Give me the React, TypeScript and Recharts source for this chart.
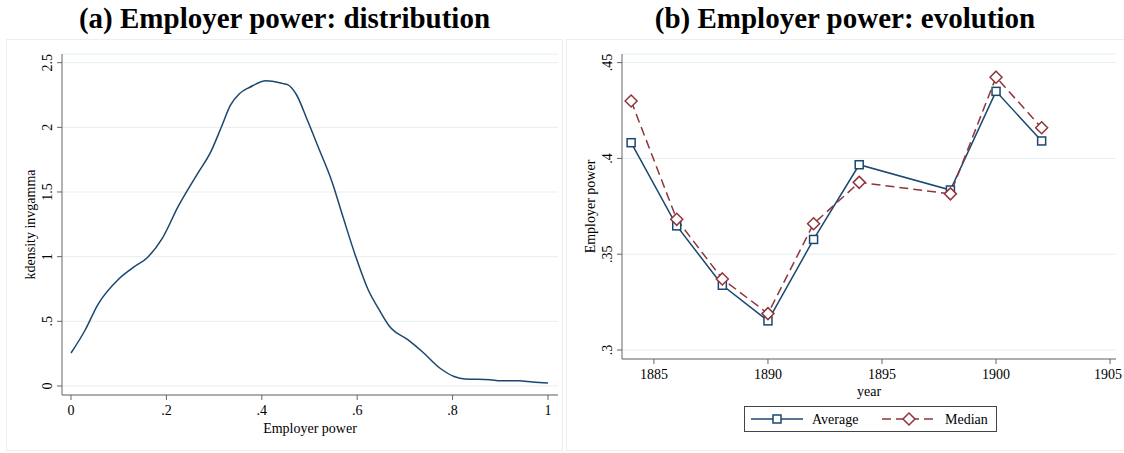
import React from "react";
import { LineChart, Line, XAxis, YAxis, CartesianGrid } from "recharts";

// (a) kernel density of employer power
const densityX = [0, 0.03, 0.056, 0.098, 0.128, 0.162, 0.191, 0.225, 0.266, 0.293, 0.315, 0.334, 0.353, 0.375, 0.409, 0.443, 0.454, 0.473, 0.495, 0.518, 0.548, 0.57, 0.597, 0.623, 0.646, 0.668, 0.706, 0.736, 0.773, 0.803, 0.826, 0.878, 0.9, 0.938, 0.968, 1.0];
const densityY = [0.255, 0.435, 0.628, 0.82, 0.91, 1.0, 1.14, 1.39, 1.646, 1.81, 2.0, 2.17, 2.26, 2.31, 2.36, 2.34, 2.33, 2.25, 2.06, 1.85, 1.57, 1.31, 1.0, 0.744, 0.59, 0.46, 0.358, 0.267, 0.139, 0.074, 0.054, 0.049, 0.041, 0.041, 0.031, 0.023];
const densityXTicks = [0, 0.2, 0.4, 0.6, 0.8, 1];
const densityYTicks = [0, 0.5, 1, 1.5, 2, 2.5];

// (b) evolution over years
const years = [1884, 1886, 1888, 1890, 1892, 1894, 1898, 1900, 1902];
const average = [0.4082, 0.3648, 0.3338, 0.3152, 0.3577, 0.3967, 0.3835, 0.435, 0.4091];
const median = [0.43, 0.3682, 0.3371, 0.319, 0.3659, 0.3875, 0.3815, 0.4424, 0.416];
const yearTicks = [1885, 1890, 1895, 1900, 1905];
const powerTicks = [0.3, 0.35, 0.4, 0.45];

const densityData = densityX.map((x, i) => ({ x, y: densityY[i] }));
const evolutionData = years.map((year, i) => ({ year, average: average[i], median: median[i] }));

const BLUE = "#1a476f";
const RED = "#90353b";
const FONT = "'Liberation Serif', 'Times New Roman', serif";
const GRID = "#e6eff1";
const AXIS = "#666";

// Stata-like labels: drop the leading zero
const stata = (v: number) => {
  const s = String(Math.round(v * 1000) / 1000);
  return s.startsWith("0.") ? s.slice(1) : s;
};

const YTick = (props: any) => {
  const { x, y, payload } = props;
  return (
    <text
      transform={`translate(${x - 3},${y}) rotate(-90)`}
      textAnchor="middle"
      fontSize={14}
      fontFamily={FONT}
      fill="#000"
    >
      {stata(payload.value)}
    </text>
  );
};

const XTick = (props: any) => {
  const { x, y, payload } = props;
  return (
    <text x={x} y={y + 13} textAnchor="middle" fontSize={14} fontFamily={FONT} fill="#000">
      {stata(payload.value)}
    </text>
  );
};

const SquareDot = (props: any) => {
  const { cx, cy } = props;
  if (cx == null || cy == null) return null;
  return <rect x={cx - 4} y={cy - 4} width={8} height={8} fill="#fff" stroke={BLUE} strokeWidth={1.5} />;
};

const DiamondDot = (props: any) => {
  const { cx, cy } = props;
  if (cx == null || cy == null) return null;
  return (
    <polygon
      points={`${cx},${cy - 6} ${cx + 6},${cy} ${cx},${cy + 6} ${cx - 6},${cy}`}
      fill="#fff"
      stroke={RED}
      strokeWidth={1.5}
    />
  );
};

const LegendBox = () => (
  <svg width={253} height={26} style={{ display: "block" }}>
    <rect x={0.5} y={0.5} width={252} height={25} fill="#fff" stroke="#444" />
    <line x1={7} y1={13} x2={59} y2={13} stroke={BLUE} strokeWidth={1.5} />
    <rect x={29} y={9} width={8} height={8} fill="#fff" stroke={BLUE} strokeWidth={1.5} />
    <text x={68} y={18} fontSize={14} fontFamily={FONT} fill="#000">Average</text>
    <line x1={138} y1={13} x2={192} y2={13} stroke={RED} strokeWidth={1.5} strokeDasharray="9 5" />
    <polygon points="165,7 171,13 165,19 159,13" fill="#fff" stroke={RED} strokeWidth={1.5} />
    <text x={201} y={18} fontSize={14} fontFamily={FONT} fill="#000">Median</text>
  </svg>
);

const titleStyle: React.CSSProperties = {
  position: "absolute",
  top: 0,
  fontFamily: FONT,
  fontWeight: "bold",
  fontSize: 29,
  lineHeight: "36px",
  textAlign: "center",
  color: "#000",
};

export default function App() {
  return (
    <div style={{ position: "absolute", left: 0, top: 0, width: 1124, height: 453, background: "#fff", fontFamily: FONT }}>
      <div style={{ ...titleStyle, left: 6, width: 557 }}>(a) Employer power: distribution</div>
      <div style={{ ...titleStyle, left: 566, width: 558 }}>(b) Employer power: evolution</div>
      <div style={{ position: "absolute", left: 6, top: 39, width: 557, height: 412, border: "1px solid #eeeeee", boxSizing: "border-box" }} />
      <div style={{ position: "absolute", left: 566, top: 39, width: 560, height: 412, border: "1px solid #eeeeee", boxSizing: "border-box" }} />

      <div style={{ position: "absolute", left: 0, top: 0 }}>
        <LineChart width={564} height={453} data={densityData} margin={{ top: 54, right: 6, bottom: 28, left: 22 }}>
          <CartesianGrid horizontal vertical={false} stroke={GRID} />
          <XAxis
            dataKey="x"
            type="number"
            domain={[-0.0189, 1.021]}
            ticks={densityXTicks}
            allowDataOverflow
            height={30}
            tick={<XTick />}
            tickSize={5}
            stroke={AXIS}
            label={{ value: "Employer power", position: "insideBottom", offset: -8, fontSize: 14, fontFamily: FONT, fill: "#000" }}
          />
          <YAxis
            type="number"
            domain={[-0.0696, 2.567]}
            ticks={densityYTicks}
            allowDataOverflow
            width={40}
            tick={<YTick />}
            tickSize={5}
            stroke={AXIS}
            label={{ value: "kdensity invgamma", angle: -90, position: "insideLeft", offset: 8, fontSize: 14, fontFamily: FONT, fill: "#000", style: { textAnchor: "middle" } }}
          />
          <Line type="monotone" dataKey="y" stroke={BLUE} strokeWidth={1.5} dot={false} isAnimationActive={false} />
        </LineChart>
      </div>

      <div style={{ position: "absolute", left: 560, top: 0 }}>
        <LineChart width={564} height={453} data={evolutionData} margin={{ top: 54, right: 8, bottom: 64, left: 22 }}>
          <CartesianGrid horizontal vertical={false} stroke={GRID} />
          <XAxis
            dataKey="year"
            type="number"
            domain={[1883.6, 1905.26]}
            ticks={yearTicks}
            allowDataOverflow
            height={30}
            tick={<XTick />}
            tickSize={5}
            stroke={AXIS}
            label={{ value: "year", position: "insideBottom", offset: -7, fontSize: 14, fontFamily: FONT, fill: "#000" }}
          />
          <YAxis
            type="number"
            domain={[0.2953, 0.4545]}
            ticks={powerTicks}
            allowDataOverflow
            width={40}
            tick={<YTick />}
            tickSize={5}
            stroke={AXIS}
            label={{ value: "Employer power", angle: -90, position: "insideLeft", offset: 8, fontSize: 14, fontFamily: FONT, fill: "#000", style: { textAnchor: "middle" } }}
          />
          <Line dataKey="average" name="Average" stroke={BLUE} strokeWidth={1.5} dot={<SquareDot />} isAnimationActive={false} />
          <Line dataKey="median" name="Median" stroke={RED} strokeWidth={1.5} strokeDasharray="9 5" dot={<DiamondDot />} isAnimationActive={false} />
        </LineChart>
      </div>

      <div style={{ position: "absolute", left: 744, top: 406 }}>
        <LegendBox />
      </div>
    </div>
  );
}
